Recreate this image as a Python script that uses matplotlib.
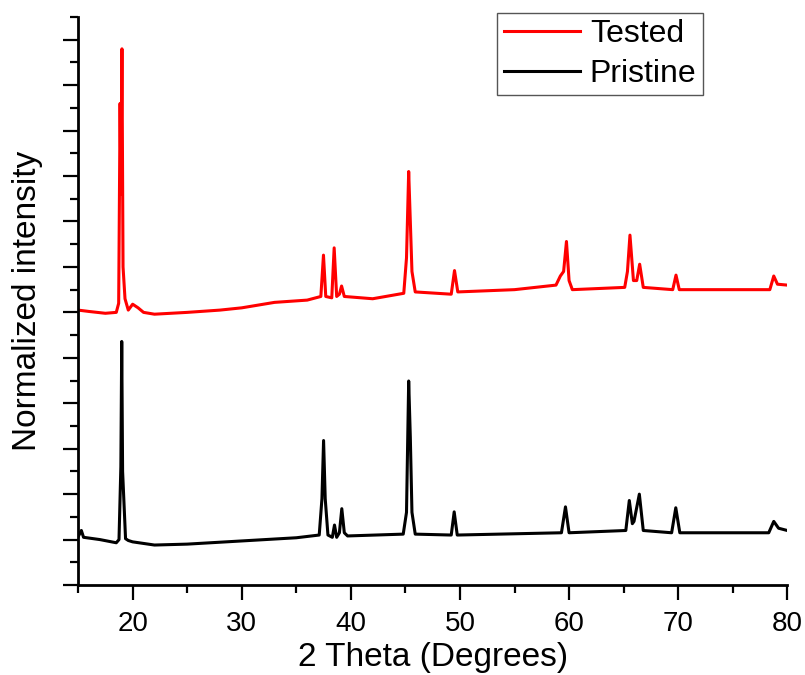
import matplotlib
matplotlib.use("Agg")
import matplotlib.pyplot as plt
from matplotlib.ticker import MultipleLocator, NullFormatter

plt.rcParams['font.family'] = ['Liberation Sans', 'DejaVu Sans']

# vertices (2 theta, normalized intensity)
two_theta_pristine = [15.0, 15.3, 15.5, 17.0, 18.5, 18.75, 18.92, 19.0, 19.08, 19.35,
                      19.6, 20.0, 22.0, 25.0, 30.0, 35.0, 37.1, 37.35, 37.5, 37.65,
                      37.9, 38.3, 38.5, 38.7, 38.95, 39.17, 39.4, 39.7, 44.8, 45.1,
                      45.3, 45.45, 45.6, 45.9, 49.2, 49.47, 49.75, 59.3, 59.67, 60.0,
                      65.2, 65.52, 65.8, 65.95, 66.44, 66.8, 69.4, 69.78, 70.15, 78.3,
                      78.76, 79.2, 80.0]
intensity_pristine = [1.06, 1.2, 1.05, 1.0, 0.93, 1.0, 2.6, 5.36, 2.5, 1.02,
                      0.98, 0.95, 0.88, 0.9, 0.97, 1.04, 1.1, 1.9, 3.18, 1.9,
                      1.1, 1.05, 1.32, 1.05, 1.15, 1.68, 1.15, 1.08, 1.12, 1.6,
                      4.49, 3.25, 1.6, 1.12, 1.1, 1.61, 1.1, 1.15, 1.72, 1.15,
                      1.2, 1.86, 1.35, 1.4, 2.0, 1.2, 1.15, 1.7, 1.15, 1.15,
                      1.4, 1.25, 1.2]

two_theta_tested = [15.0, 16.0, 17.5, 18.5, 18.72, 18.85, 18.93, 19.02, 19.12, 19.3,
                    19.6, 20.0, 20.5, 21.0, 22.0, 25.0, 28.0, 30.0, 33.0, 36.0,
                    37.25, 37.49, 37.7, 38.25, 38.47, 38.7, 38.95, 39.15, 39.4, 42.0,
                    44.85, 45.1, 45.3, 45.45, 45.6, 45.9, 49.2, 49.5, 49.8, 55.0,
                    58.8, 59.2, 59.5, 59.76, 60.0, 60.3, 65.1, 65.35, 65.58, 65.9,
                    66.2, 66.47, 66.8, 69.5, 69.8, 70.1, 78.4, 78.76, 79.1, 80.0]
intensity_tested = [6.05, 6.02, 5.98, 6.0, 6.2, 10.6, 8.6, 11.8, 7.0, 6.3,
                    6.05, 6.18, 6.1, 6.0, 5.96, 6.0, 6.05, 6.1, 6.22, 6.27,
                    6.35, 7.26, 6.35, 6.32, 7.42, 6.35, 6.4, 6.58, 6.35, 6.3,
                    6.42, 7.2, 9.1, 8.0, 6.9, 6.45, 6.4, 6.92, 6.45, 6.5,
                    6.6, 6.8, 6.9, 7.56, 6.7, 6.5, 6.55, 6.9, 7.7, 6.7,
                    6.7, 7.06, 6.55, 6.5, 6.82, 6.5, 6.5, 6.8, 6.62, 6.6]

fig = plt.figure(figsize=(8.05, 6.75), dpi=100)
ax = fig.add_axes([0.097, 0.1333, 0.881, 0.8415])

ax.plot(two_theta_tested, intensity_tested, color='#ff0000', lw=2.2, label='Tested')
ax.plot(two_theta_pristine, intensity_pristine, color='black', lw=2.2, label='Pristine')

ax.set_xlim(15, 80)
ax.set_ylim(0, 12.5)
ax.xaxis.set_major_locator(MultipleLocator(10))
ax.xaxis.set_minor_locator(MultipleLocator(5))
ax.yaxis.set_major_locator(MultipleLocator(1))
ax.yaxis.set_minor_locator(MultipleLocator(0.5))
ax.yaxis.set_major_formatter(NullFormatter())

for s in ['top', 'right']:
    ax.spines[s].set_visible(False)
for s in ['left', 'bottom']:
    ax.spines[s].set_linewidth(2)

ax.tick_params(which='major', direction='out', length=11, width=1.6, labelsize=20, pad=8)
ax.tick_params(which='minor', direction='out', length=5.5, width=1.6)

ax.set_xlabel('2 Theta (Degrees)', fontsize=24, labelpad=3)
ax.set_ylabel('Normalized intensity', fontsize=24, labelpad=6)

leg = ax.legend(loc='upper right', bbox_to_anchor=(0.873, 0.981),
                bbox_transform=fig.transFigure, fontsize=23, frameon=True,
                fancybox=False, framealpha=1, edgecolor='#555555',
                handlelength=2.4, handletextpad=0.3, borderpad=0.2,
                labelspacing=0.3, borderaxespad=0)
leg.get_frame().set_linewidth(1.0)

fig.savefig('out.png', dpi=100)
